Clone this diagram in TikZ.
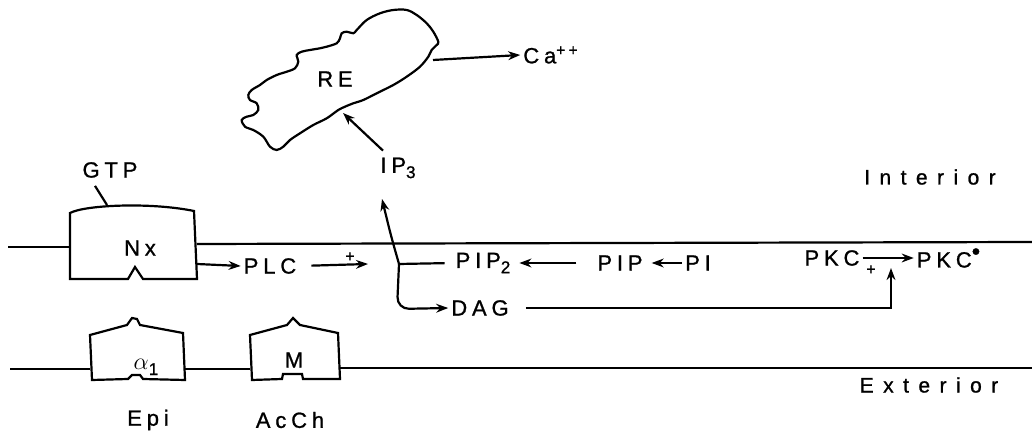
\documentclass[tikz,border=0pt]{standalone}
\usepackage{fontspec}
\setmainfont{Liberation Sans}[LetterSpace=22,FakeBold=1]
\usepackage{tikz}
\usetikzlibrary{arrows.meta,calc}
\newcommand{\lowsub}[1]{\raisebox{-0.45ex}{\fontsize{8.5}{9}\selectfont #1}}

\begin{document}
\begin{tikzpicture}[>={Stealth[length=6pt,width=4.4pt]},line width=1.1pt,x=0.5pt,y=-0.5pt,
  every node/.style={inner sep=1pt,font=\fontsize{11}{13}\selectfont},
  sgn/.style={font=\fontsize{8}{8}\selectfont,inner sep=0pt},
  wide/.style={font=\fontsize{10.5}{12}\selectfont\addfontfeature{LetterSpace=45}}]
\useasboundingbox (0,0) rectangle (1032,431);
% membranes
\draw (8,247) -- (70,247); \draw (197,244) -- (1032,242);
\draw (10,369) -- (90,369); \draw (185,369) -- (250,369); \draw (340,368) -- (1032,368);
% receptor boxes
\draw (70,279) -- (70,213) .. controls (85,205) and (150,202) .. (194,211) -- (197,279) -- (143,279) -- (135,267) -- (128,279) -- cycle;
\draw (92,380) -- (90,335) -- (127,325) -- (132,318) -- (137,319) -- (140,325) -- (183,333) -- (185,380) -- (143,379) -- (140,375) -- (132,375) -- (128,379) -- cycle;
\draw (252,380) -- (250,335) -- (287,325) -- (293,318) -- (300,325) -- (338,333) -- (340,379) -- (303,379) -- (302,374) -- (283,374) -- (282,379) -- cycle;
% reticulum
\draw plot[smooth cycle,tension=0.55] coordinates {(276.7,150) (270,146.7) (263.3,136.7) (253.3,130) (245,126.7) (241.7,120) (246.7,116.7) (253.3,115) (258.3,110) (256.7,103.3) (250,100) (248.3,95) (251.7,90) (260,85) (266.7,80) (276.7,75) (286.7,71.7) (295,68.3) (298.3,61.7) (296.7,55) (301.7,51.7) (310,50) (320,48.3) (326.7,46.7) (336.7,43.3) (340,38.3) (341.7,33.3) (346.7,31.7) (353.3,33.3) (356.7,30) (366.7,20) (380,13.3) (393.3,10) (406.7,10) (416.7,15) (426.7,23.3) (433.3,31.7) (438.3,41.7) (436.7,45) (431.7,50) (428.3,56.7) (420,66.7) (406.7,76.7) (393.3,85) (376.7,93.3) (363.3,100) (353.3,103.3) (345,106.7) (338.3,110) (326.7,118.3) (313.3,125) (300,133.3) (290,140) (283.3,146.7)};
% labels
\node (gtp) at (110,170) {GTP}; \node (nx) at (140,248) {Nx}; \node (plc) at (270,266) {PLC};
\node (pip2) at (483,263) {PIP\lowsub{2}}; \node (pip) at (620,263) {PIP}; \node (pi) at (698,263) {PI};
\node (dag) at (480,308) {DAG}; \node (ip3) at (398,168) {IP\lowsub{3}};
\node (re) at (335,79) {RE}; \node (ca) at (551,55) {Ca\textsuperscript{++}};
\node (pkc) at (832,258) {PKC}; \node (pkca) at (949,258) {PKC\textsuperscript{\large\textbullet}};
\node[wide] (int) at (930,177) {Interior}; \node[wide] (ext) at (929,385) {Exterior};
\node (a1) at (146,367) {\large$\alpha$\lowsub{1}}; \node (m) at (294,360) {M};
\node (epi) at (148,420) {Epi}; \node (acch) at (290,420) {AcCh};
\node[sgn] (p1) at (350,257) {+}; \node[sgn] (p2) at (871,270) {+};
% free ends
\coordinate (nxtop) at (107,205); \coordinate (nxr) at (197,264); \coordinate (plcto) at (368,264);
\coordinate (jn) at (399,264); \coordinate (ip3in) at (382,199); \coordinate (pkcin) at (891,268);
\coordinate (rein) at (343,113); \coordinate (reout) at (433,60);
% connectors
\draw ($(gtp.south)+(-15,5)$) -- (nxtop);
\draw[->] (nxr) -- (plc.west);
\draw[->,shorten <=6pt] (plc.east) -- (plcto);
\draw[shorten >=4pt] (jn) -- (pip2.west);
\draw[->] (jn) .. controls (391,236) .. (ip3in);
\draw[->,rounded corners=6] (jn) -- (397,309) -- (dag.west);
\draw[->,shorten <=9pt,shorten >=3pt] (pip.west) -- (pip2.east);
\draw[->,shorten >=3pt] (pi.west) -- (pip.east);
\draw[->,shorten <=7pt] (dag.east) -| (pkcin);
\draw[->] (pkc.east) -- (pkca.west);
\draw[->] ($(ip3.north)+(-15,-4)$) -- (rein);
\draw[->] (reout) -- (ca.west);
\end{tikzpicture}
\end{document}
